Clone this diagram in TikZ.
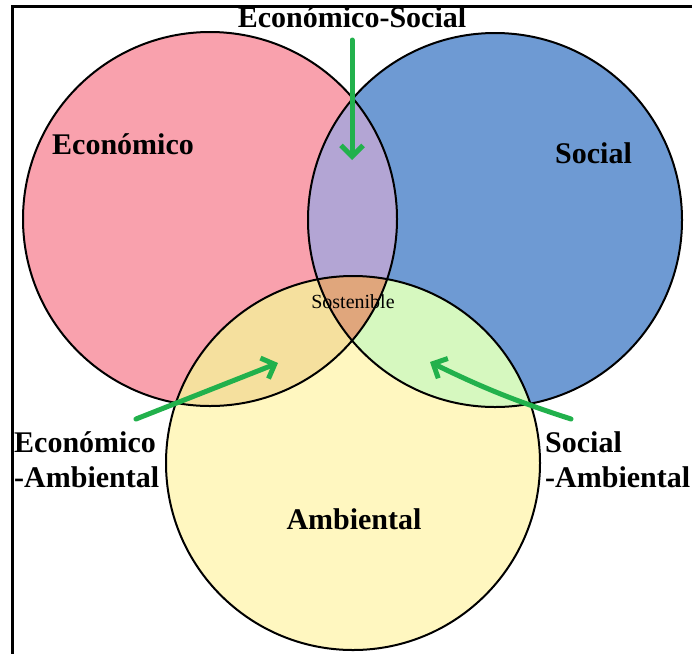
\documentclass[tikz,border=0pt]{standalone}
\usepackage{fontspec}
\setmainfont{Liberation Serif}
\usetikzlibrary{arrows.meta}
\definecolor{ecopink}{HTML}{F9A1AD}
\definecolor{socblue}{HTML}{6E9AD3}
\definecolor{ambyellow}{HTML}{FFF7C0}
\definecolor{ecosoc}{HTML}{B3A5D4}
\definecolor{ecoamb}{HTML}{F5E09E}
\definecolor{socamb}{HTML}{D6F8BF}
\definecolor{sost}{HTML}{E0A67C}
\definecolor{arrowgreen}{HTML}{22B14C}
\tikzset{
  setline/.style={draw=black, line width=2pt},
  biglabel/.style={font=\fontsize{30}{34}\selectfont\bfseries, inner sep=0pt},
  greenarrow/.style={draw=arrowgreen, line width=5pt, line cap=round,
    -{Straight Barb[length=11pt,width=22pt,line width=5pt]}}
}
\begin{document}
\begin{tikzpicture}[x=1pt,y=-1pt]
      \useasboundingbox (0,0) rectangle (692,654);
      \coordinate (eco) at (210,219);
      \coordinate (soc) at (495,220);
      \coordinate (amb) at (353,463);
      % circles and their overlaps
      \fill[ecopink] (eco) circle[radius=187pt];
      \fill[socblue] (soc) circle[radius=187pt];
      \fill[ambyellow] (amb) circle[radius=187pt];
      \begin{scope}
        \clip (eco) circle[radius=187pt];
        \fill[ecosoc] (soc) circle[radius=187pt];
        \fill[ecoamb] (amb) circle[radius=187pt];
      \end{scope}
      \begin{scope}
        \clip (soc) circle[radius=187pt];
        \fill[socamb] (amb) circle[radius=187pt];
      \end{scope}
      \begin{scope}
        \clip (eco) circle[radius=187pt];
        \clip (soc) circle[radius=187pt];
        \fill[sost] (amb) circle[radius=187pt];
      \end{scope}
      \draw[setline] (eco) circle[radius=187pt];
      \draw[setline] (soc) circle[radius=187pt];
      \draw[setline] (amb) circle[radius=187pt];
      % frame
      \draw[line width=3pt] (692,6.5) -- (12,6.5) -- (12,654);
      % labels
      \node[biglabel, anchor=base] (ecosocl) at (352,27) {Económico-Social};
      \node[biglabel, anchor=base west] (ecol) at (52,154) {Económico};
      \node[biglabel, anchor=base west] (socl) at (555,163) {Social};
      \node[biglabel, anchor=base] (ambl) at (354,529) {Ambiental};
      \node[font=\fontsize{20}{24}\selectfont, inner sep=0pt, anchor=base] (sostl) at (353,308) {Sostenible};
      \node[biglabel, anchor=base west] (ecoambA) at (14,452) {Económico};
      \node[biglabel, anchor=base west] (ecoambB) at (14,487) {-Ambiental};
      \node[biglabel, anchor=base west] (socambA) at (545,452) {Social};
      \node[biglabel, anchor=base west] (socambB) at (545,487) {-Ambiental};
      % arrows
      \coordinate (esTail) at (352,40);
      \coordinate (esTip) at (352,160);
      \coordinate (eaTail) at (136,419);
      \coordinate (eaTip) at (278,363);
      \coordinate (saTail) at (571,419);
      \coordinate (saTip) at (430,362);
      \draw[greenarrow] (esTail) -- (esTip);
      \draw[greenarrow] (eaTail) -- (eaTip);
      \draw[greenarrow] (saTail) to[bend left=4] (saTip);
    \end{tikzpicture}
\end{document}
